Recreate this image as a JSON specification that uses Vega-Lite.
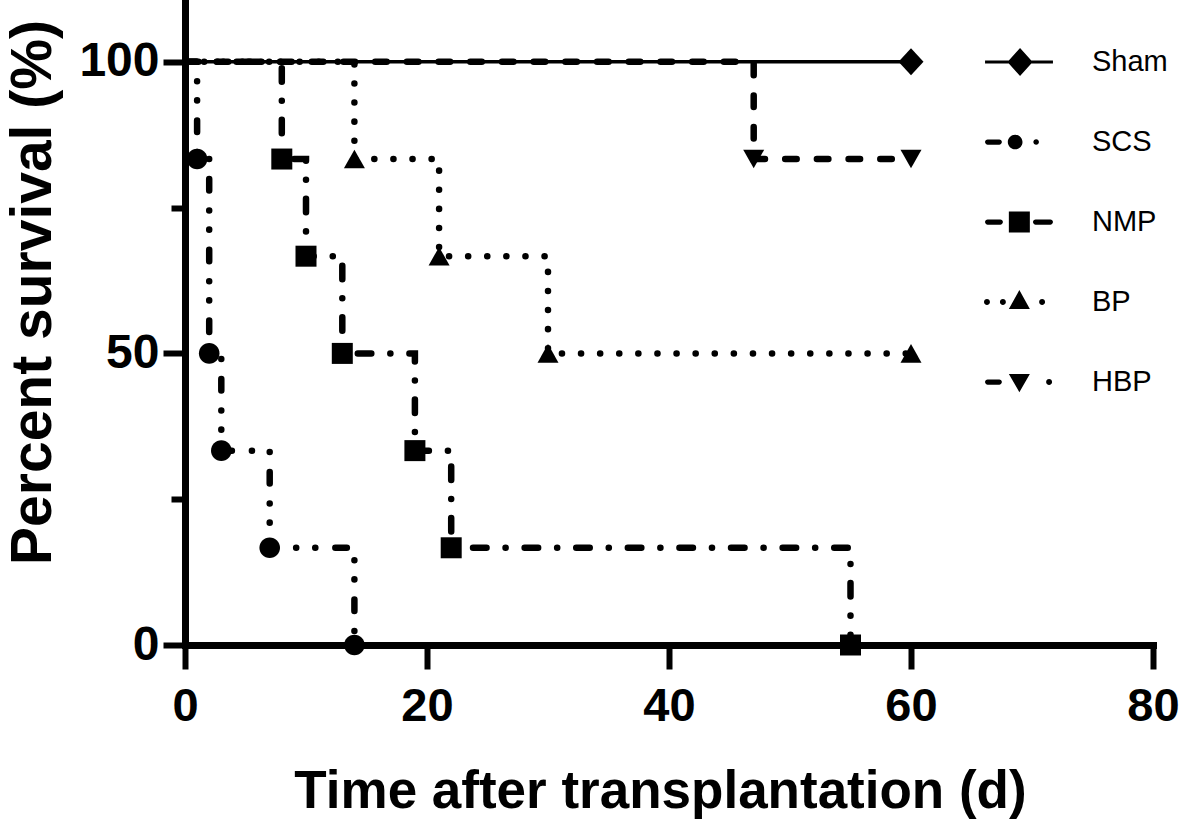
{
  "$schema": "https://vega.github.io/schema/vega-lite/v6.json",
  "width": 968,
  "height": 645,
  "autosize": "none",
  "padding": {"left": 185, "top": 0, "right": 28, "bottom": 174},
  "background": "white",
  "config": {"view": {"stroke": null}, "font": "Liberation Sans"},
  "data": {
    "values": [
      {"group": "Sham", "t": 0, "survival": 100},
      {"group": "Sham", "t": 60, "survival": 100},
      {"group": "SCS", "t": 0, "survival": 100},
      {"group": "SCS", "t": 1, "survival": 83.33},
      {"group": "SCS", "t": 2, "survival": 50},
      {"group": "SCS", "t": 3, "survival": 33.33},
      {"group": "SCS", "t": 7, "survival": 16.67},
      {"group": "SCS", "t": 14, "survival": 0},
      {"group": "NMP", "t": 0, "survival": 100},
      {"group": "NMP", "t": 8, "survival": 83.33},
      {"group": "NMP", "t": 10, "survival": 66.67},
      {"group": "NMP", "t": 13, "survival": 50},
      {"group": "NMP", "t": 19, "survival": 33.33},
      {"group": "NMP", "t": 22, "survival": 16.67},
      {"group": "NMP", "t": 55, "survival": 0},
      {"group": "BP", "t": 0, "survival": 100},
      {"group": "BP", "t": 14, "survival": 83.33},
      {"group": "BP", "t": 21, "survival": 66.67},
      {"group": "BP", "t": 30, "survival": 50},
      {"group": "BP", "t": 60, "survival": 50},
      {"group": "HBP", "t": 0, "survival": 100},
      {"group": "HBP", "t": 47, "survival": 83.33},
      {"group": "HBP", "t": 60, "survival": 83.33}
    ]
  },
  "encoding": {
    "x": {
      "field": "t",
      "type": "quantitative",
      "scale": {"domain": [0, 80], "nice": false},
      "axis": {
        "values": [0, 20, 40, 60, 80],
        "grid": false,
        "domainColor": "black",
        "domainWidth": 7,
        "domainCap": "square",
        "tickColor": "black",
        "tickWidth": 6,
        "tickSize": 24,
        "labelFont": "Liberation Sans",
        "labelFontWeight": "bold",
        "labelFontSize": 47,
        "labelColor": "black",
        "labelPadding": 14,
        "labelFlush": false,
        "labelOverlap": false,
        "title": "Time after transplantation (d)",
        "titleFont": "Liberation Sans",
        "titleFontWeight": "bold",
        "titleFontSize": 53,
        "titleColor": "black",
        "titleX": 475,
        "titleY": 162,
        "titleBaseline": "alphabetic"
      }
    },
    "y": {
      "field": "survival",
      "type": "quantitative",
      "scale": {"domain": [0, 110.6], "nice": false},
      "axis": {
        "values": [0, 25, 50, 75, 100],
        "labelExpr": "datum.value % 50 === 0 ? datum.label : ''",
        "grid": false,
        "domainColor": "black",
        "domainWidth": 7,
        "domainCap": "square",
        "tickColor": "black",
        "tickWidth": 6,
        "tickSize": {"expr": "datum.value % 50 === 0 ? 22 : 14"},
        "labelFont": "Liberation Sans",
        "labelFontWeight": "bold",
        "labelFontSize": 48,
        "labelColor": "black",
        "labelPadding": 4,
        "labelFlush": false,
        "labelOverlap": false,
        "title": "Percent survival (%)",
        "titleFont": "Liberation Sans",
        "titleFontWeight": "bold",
        "titleFontSize": 57,
        "titleColor": "black",
        "titleX": -135,
        "titleY": 292,
        "titleBaseline": "alphabetic"
      }
    }
  },
  "layer": [
    {
      "transform": [{"filter": "datum.group === 'Sham'"}],
      "mark": {"type": "line", "interpolate": "step-after", "strokeCap": "round", "color": "black", "strokeWidth": 3.5},
      "encoding": {}
    },
    {
      "transform": [{"filter": "datum.group === 'SCS'"}],
      "mark": {"type": "line", "interpolate": "step-after", "strokeCap": "round", "color": "black", "strokeWidth": 6.5, "strokeDash": [11.5, 20, 0.1, 19, 0.1, 20]},
      "encoding": {}
    },
    {
      "transform": [{"filter": "datum.group === 'NMP'"}],
      "mark": {"type": "line", "interpolate": "step-after", "strokeCap": "round", "color": "black", "strokeWidth": 6.5, "strokeDash": [13.5, 19, 0.1, 19]},
      "encoding": {}
    },
    {
      "transform": [{"filter": "datum.group === 'BP'"}],
      "mark": {"type": "line", "interpolate": "step-after", "strokeCap": "round", "color": "black", "strokeWidth": 6.5, "strokeDash": [0.1, 19]},
      "encoding": {}
    },
    {
      "transform": [{"filter": "datum.group === 'HBP'"}],
      "mark": {"type": "line", "interpolate": "step-after", "strokeCap": "round", "color": "black", "strokeWidth": 6.5, "strokeDash": [11.5, 20.2]},
      "encoding": {}
    },
    {
      "transform": [{"filter": "datum.group === 'Sham' && datum.t > 0"}],
      "mark": {"type": "point", "filled": true, "opacity": 1, "strokeWidth": 0, "color": "black", "size": 400, "shape": "M-1.25,0L0,-1.35L1.25,0L0,1.35Z"},
      "encoding": {}
    },
    {
      "transform": [{"filter": "datum.group === 'SCS' && datum.t > 0"}],
      "mark": {"type": "point", "filled": true, "opacity": 1, "strokeWidth": 0, "color": "black", "size": 400, "shape": "M-1.03,0A1.03,1.03 0 1 0 1.03,0A1.03,1.03 0 1 0 -1.03,0Z"},
      "encoding": {}
    },
    {
      "transform": [{"filter": "datum.group === 'NMP' && datum.t > 0"}],
      "mark": {"type": "point", "filled": true, "opacity": 1, "strokeWidth": 0, "color": "black", "size": 400, "shape": "M-1.05,-1.05H1.05V1.05H-1.05Z"},
      "encoding": {}
    },
    {
      "transform": [{"filter": "datum.group === 'BP' && datum.t > 0"}],
      "mark": {"type": "point", "filled": true, "opacity": 1, "strokeWidth": 0, "color": "black", "size": 400, "shape": "M0,-0.93L1.05,0.93L-1.05,0.93Z"},
      "encoding": {}
    },
    {
      "transform": [{"filter": "datum.group === 'HBP' && datum.t > 0"}],
      "mark": {"type": "point", "filled": true, "opacity": 1, "strokeWidth": 0, "color": "black", "size": 400, "shape": "M0,0.93L-1.05,-0.93L1.05,-0.93Z"},
      "encoding": {}
    },
    {
      "transform": [{"filter": "datum.t > 0"}],
      "mark": {
        "type": "point",
        "filled": true,
        "opacity": 0,
        "strokeWidth": 0,
        "color": "black",
        "shape": {"expr": "datum.value === 'Sham' ? 'M-1,-1M1,1M-0.97,-0.045H0.97V0.045H-0.97Z M0.03,-0.4L0.39,0L0.03,0.4L-0.33,0Z' : datum.value === 'SCS' ? 'M-1,-1M1,1M-0.895,-0.075H-0.565A0.075,0.075 0 0 1 -0.565,0.075H-0.895A0.075,0.075 0 0 1 -0.895,-0.075Z M-0.32,0A0.21,0.21 0 1 0 0.1,0A0.21,0.21 0 1 0 -0.32,0Z M0.41,0A0.08,0.08 0 1 0 0.57,0A0.08,0.08 0 1 0 0.41,0Z' : datum.value === 'NMP' ? 'M-1,-1M1,1M-0.895,-0.075H-0.535A0.075,0.075 0 0 1 -0.535,0.075H-0.895A0.075,0.075 0 0 1 -0.895,-0.075Z M-0.29,-0.3H0.31V0.3H-0.29Z M0.475,-0.075H0.895A0.075,0.075 0 0 1 0.895,0.075H0.475A0.075,0.075 0 0 1 0.475,-0.075Z' : datum.value === 'BP' ? 'M-1,-1M1,1M-1.0,0A0.085,0.085 0 1 0 -0.83,0A0.085,0.085 0 1 0 -1.0,0Z M-0.545,0A0.085,0.085 0 1 0 -0.375,0A0.085,0.085 0 1 0 -0.545,0Z M0.01,-0.34L0.31,0.2L-0.29,0.2Z M0.575,0A0.085,0.085 0 1 0 0.745,0A0.085,0.085 0 1 0 0.575,0Z' : 'M-1,-1M1,1M-0.895,-0.075H-0.565A0.075,0.075 0 0 1 -0.565,0.075H-0.895A0.075,0.075 0 0 1 -0.895,-0.075Z M-0.29,-0.23H0.31L0.01,0.29Z M0.775,0A0.085,0.085 0 1 0 0.945,0A0.085,0.085 0 1 0 0.775,0Z'"}
      },
      "encoding": {
        "strokeDash": {
          "field": "group",
          "type": "nominal",
          "scale": {
            "domain": ["Sham", "SCS", "NMP", "BP", "HBP"],
            "range": [[1, 0], [11.5, 20, 0.1, 19, 0.1, 20], [13.5, 19, 0.1, 19], [0.1, 19], [11.5, 20.2]]
          },
          "legend": {
            "title": null,
            "orient": "none",
            "legendX": 799,
            "legendY": 27,
            "padding": 0,
            "symbolSize": 4900,
            "symbolStrokeWidth": 0,
            "symbolFillColor": "black",
            "symbolOpacity": 1,
            "labelFont": "Liberation Sans",
            "labelFontSize": 29,
            "labelColor": "black",
            "labelOffset": 38,
            "rowPadding": 10,
            "encode": {
              "symbols": {
                "size": {"value": 4900},
                "fill": {"value": "black"},
                "stroke": {"value": "black"},
                "strokeWidth": {"value": 0},
                "opacity": {"value": 1}
              }
            }
          }
        }
      }
    }
  ]
}
